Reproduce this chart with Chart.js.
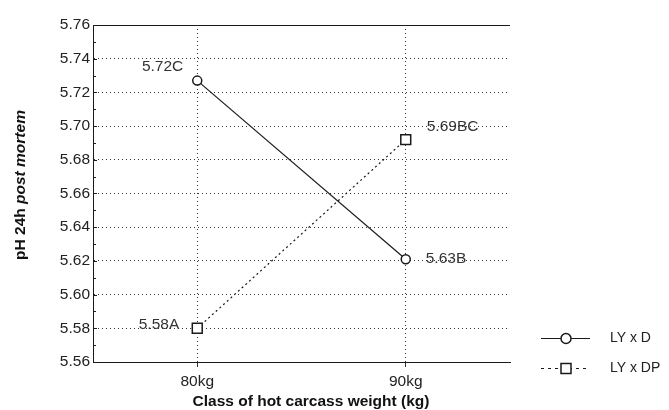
<!DOCTYPE html>
<html><head><meta charset="utf-8">
<script src="https://cdn.jsdelivr.net/npm/chart.js@4"></script>
<style>html,body{margin:0;padding:0;background:#fff}#wrap{width:669px;height:410px;position:relative}</style>
</head><body><div id="wrap"><canvas id="c"></canvas></div>
<script>
// ---- data ----
const categories = ['80kg', '90kg'];
const seriesNames = ['LY x D', 'LY x DP'];
const lyD = [5.727, 5.621];
const lyDP = [5.580, 5.692];
const lyDLabels = ['5.72C', '5.63B'];
const lyDPLabels = ['5.58A', '5.69BC'];
const yTickValues = [5.56, 5.58, 5.60, 5.62, 5.64, 5.66, 5.68, 5.70, 5.72, 5.74, 5.76];
const yMinorValues = [5.57, 5.59, 5.61, 5.63, 5.65, 5.67, 5.69, 5.71, 5.73, 5.75];
const xTitle = 'Class of hot carcass weight (kg)';
const yTitleParts = [['pH 24h ', 'bold'], ['post mortem', 'italic bold']];

const FONT = '"Liberation Sans", Arial, Helvetica, sans-serif';
const INK = '#1a1a1a';

// label placement (style only): [dx, dy, align]
const labelPlace = [
  [[-14, -14, 'right'], [20, 0, 'left']],
  [[-18, -4, 'right'], [21, -13, 'left']]
];
const labelTexts = [lyDLabels, lyDPLabels];

const overlay = {
  id: 'overlay',
  afterDatasetsDraw(chart) {
    const ctx = chart.ctx;
    const {left, right, top, bottom} = chart.chartArea;
    const ys = chart.scales.y;
    ctx.save();
    // top frame line
    ctx.strokeStyle = INK; ctx.lineWidth = 1; ctx.setLineDash([]);
    ctx.beginPath(); ctx.moveTo(left, top + 0.5); ctx.lineTo(right, top + 0.5); ctx.stroke();
    // minor inner ticks on y axis
    ctx.beginPath();
    yMinorValues.forEach(v => {
      const y = Math.round(ys.getPixelForValue(v)) + 0.5;
      ctx.moveTo(left, y); ctx.lineTo(left + 3, y);
    });
    yTickValues.forEach(v => {
      const y = Math.round(ys.getPixelForValue(v)) + 0.5;
      ctx.moveTo(left, y); ctx.lineTo(left + 4, y);
    });
    ctx.stroke();
    // data labels
    ctx.font = '15.5px ' + FONT;
    ctx.fillStyle = '#333';
    ctx.textBaseline = 'middle';
    chart.data.datasets.forEach((ds, di) => {
      const meta = chart.getDatasetMeta(di);
      meta.data.forEach((pt, i) => {
        const p = labelPlace[di][i];
        ctx.textAlign = p[2];
        ctx.fillText(labelTexts[di][i], pt.x + p[0], pt.y + p[1]);
      });
    });
    // legend
    const lx0 = 541, lx1 = 590, lmx = 566, ltx = 610;
    const rows = [338, 368];
    chart.data.datasets.forEach((ds, di) => {
      const y = rows[di];
      ctx.strokeStyle = INK; ctx.lineWidth = 1;
      ctx.setLineDash(di === 0 ? [] : [3, 4]);
      ctx.beginPath(); ctx.moveTo(lx0, y + 0.5); ctx.lineTo(lx1, y + 0.5); ctx.stroke();
      ctx.setLineDash([]);
      ctx.fillStyle = '#fff'; ctx.lineWidth = 1.5;
      ctx.beginPath();
      if (di === 0) { ctx.arc(lmx, y + 0.5, 5, 0, Math.PI * 2); }
      else { ctx.rect(lmx - 5, y - 4.5, 10, 10); }
      ctx.fill(); ctx.stroke();
      ctx.fillStyle = '#222';
      ctx.font = '14px ' + FONT;
      ctx.textAlign = 'left'; ctx.textBaseline = 'middle';
      ctx.fillText(seriesNames[di], ltx, y);
    });
    // x title
    ctx.fillStyle = '#111';
    ctx.font = 'bold 15.5px ' + FONT;
    ctx.textAlign = 'center'; ctx.textBaseline = 'middle';
    ctx.fillText(xTitle, 311, 402);
    // y title (rotated, mixed style)
    ctx.translate(21, 185);
    ctx.rotate(-Math.PI / 2);
    let total = 0;
    yTitleParts.forEach(([t, s]) => { ctx.font = s + ' 15.5px ' + FONT; total += ctx.measureText(t).width; });
    let x = -total / 2;
    ctx.textAlign = 'left';
    yTitleParts.forEach(([t, s]) => {
      ctx.font = s + ' 15.5px ' + FONT;
      ctx.fillText(t, x, 0);
      x += ctx.measureText(t).width;
    });
    ctx.restore();
  }
};

new Chart(document.getElementById('c'), {
  type: 'line',
  data: {
    datasets: [
      {
        label: seriesNames[0],
        data: lyD.map((v, i) => ({x: i + 1, y: v})),
        borderColor: INK, borderWidth: 1.2,
        pointStyle: 'circle', pointRadius: 4.5,
        pointBackgroundColor: '#fff', pointBorderColor: INK, pointBorderWidth: 1.5,
        tension: 0
      },
      {
        label: seriesNames[1],
        data: lyDP.map((v, i) => ({x: i + 1, y: v})),
        borderColor: INK, borderWidth: 1.2, borderDash: [2, 3],
        pointStyle: 'rect', pointRadius: 7,
        pointBackgroundColor: '#fff', pointBorderColor: INK, pointBorderWidth: 1.5,
        tension: 0
      }
    ]
  },
  options: {
    responsive: true, maintainAspectRatio: false, animation: false, events: [],
    layout: {padding: {top: 25, right: 159, left: 0, bottom: 0}},
    plugins: {legend: {display: false}, tooltip: {enabled: false}},
    scales: {
      x: {
        type: 'linear', min: 0.5, max: 2.5,
        afterBuildTicks: s => { s.ticks = categories.map((c, i) => ({value: i + 1})); },
        afterFit: s => { s.height = 48; },
        ticks: {
          callback: v => categories[Math.round(v) - 1],
          font: {family: FONT, size: 15.5}, color: '#222', padding: 5, maxRotation: 0
        },
        grid: {color: '#333', lineWidth: 1, drawTicks: true, tickLength: 5},
        border: {display: true, color: INK, width: 1, dash: [1, 3]}
      },
      y: {
        min: 5.56, max: 5.76,
        afterBuildTicks: s => { s.ticks = yTickValues.map(v => ({value: v})); },
        afterFit: s => { s.width = 93; },
        ticks: {
          callback: v => Number(v).toFixed(2),
          font: {family: FONT, size: 15.5}, color: '#222', padding: 3
        },
        grid: {color: '#333', lineWidth: 1, drawTicks: false},
        border: {display: true, color: INK, width: 1, dash: [1, 3]}
      }
    }
  },
  plugins: [overlay]
});
</script>
</body></html>
